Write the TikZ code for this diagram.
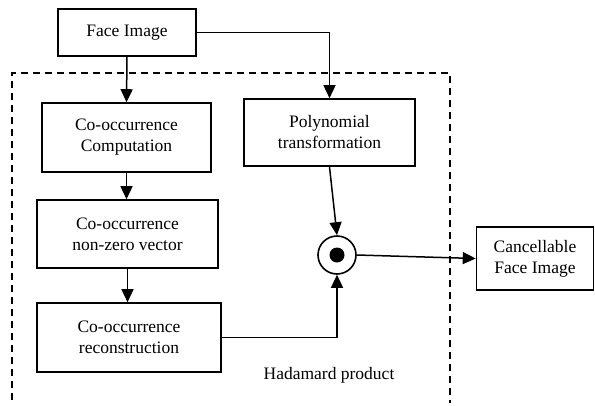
\documentclass[tikz,border=0pt]{standalone}
\usepackage{fontspec}
\setmainfont{Liberation Serif}
\usetikzlibrary{arrows.meta,calc}
\begin{document}
\begin{tikzpicture}[x=1pt,y=-1pt,
  every node/.style={font=\fontsize{17.5}{21}\selectfont},
  block/.style={draw,line width=1.6pt,rectangle,inner sep=0pt,align=center},
  conn/.style={line width=1.5pt,-{Triangle[length=13pt,width=12pt]}},
  plain/.style={line width=1.5pt}]
\useasboundingbox (0,0) rectangle (595,405);
% dashed frame around the processing stages (open at the bottom)
\draw[line width=1.4pt,dash pattern=on 7pt off 5pt] (12,400) -- (12,73) -- (450,73) -- (450,403);
% blocks
\node[block,minimum width=138pt,minimum height=47pt] (face) at (127,32.5) {Face Image};
\node[block,minimum width=169pt,minimum height=69pt] (comp) at (126.5,137.5) {Co-occurrence\\Computation};
\node[block,minimum width=171pt,minimum height=67pt] (poly) at (329.5,132.5) {Polynomial\\transformation};
\node[block,minimum width=181pt,minimum height=68pt] (nzv) at (127.5,234) {Co-occurrence\\non-zero vector};
\node[block,minimum width=184pt,minimum height=69pt] (rec) at (129,337.5) {Co-occurrence\\reconstruction};
\node[block,minimum width=117pt,minimum height=63pt] (out) at (535,258.5) {Cancellable\\Face Image};
% Hadamard product operator
\node[draw,circle,line width=1.6pt,minimum size=38pt,inner sep=0pt] (had) at (337,255) {};
\fill (had.center) circle (7.5pt);
\node (hlabel) at (329,375) {Hadamard product};
% connectors
\draw[conn] (face.south) -- (comp.north);
\draw[conn] (face.east) -| (poly.north);
\draw[conn] (comp.south) -- (nzv.north -| comp.south);
\draw[conn] (nzv.south) -- (rec.north -| nzv.south);
\draw[conn] (poly.south) -- (had.north);
\draw[conn] (rec.east) -| (had.south);
\draw[conn] (had.east) -- (out.west);
\end{tikzpicture}
\end{document}
